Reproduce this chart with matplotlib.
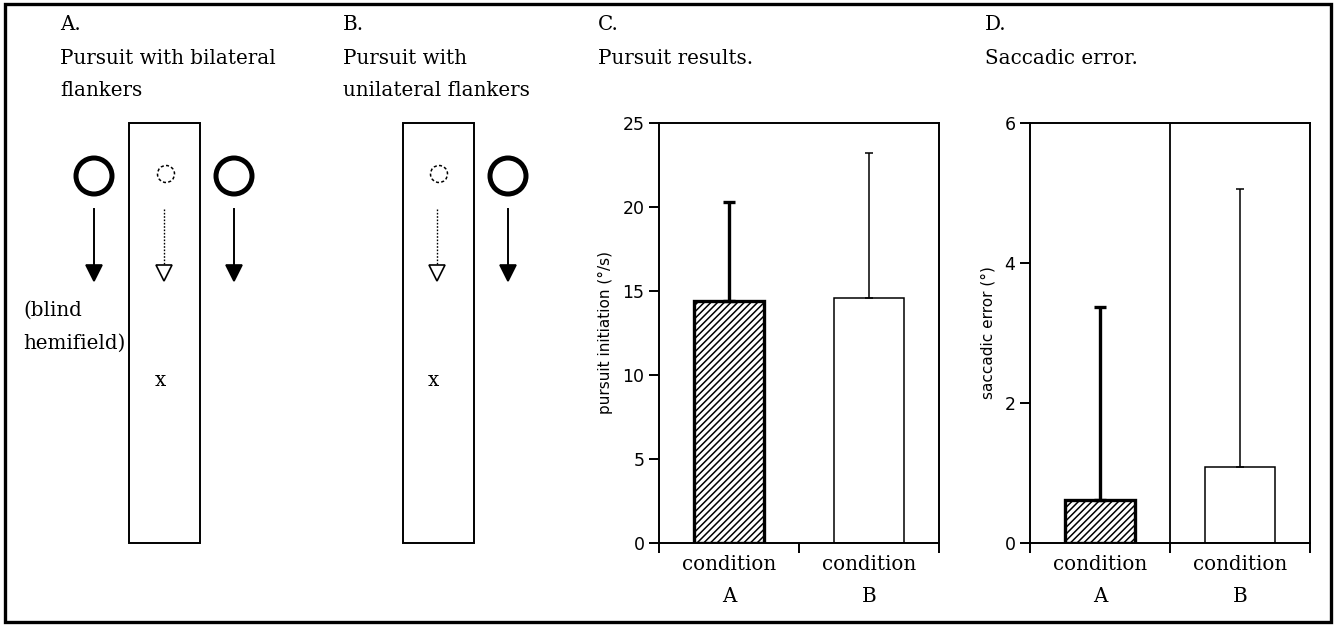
import numpy as np
import matplotlib
matplotlib.use('Agg')
import matplotlib.pyplot as plt
from matplotlib.patches import Rectangle, Circle

# values
conditions = ['condition\nA', 'condition\nB']
pursuit_mean = [14.4, 14.6]
pursuit_upper = [20.3, 23.2]
saccade_mean = [0.61, 1.09]
saccade_upper = [3.37, 5.06]
pursuit_ticks = [0, 5, 10, 15, 20, 25]
saccade_ticks = [0, 2, 4, 6]

panel_titles = ['A.\nPursuit with bilateral\nflankers',
                'B.\nPursuit with\nunilateral flankers',
                'C.\nPursuit results.',
                'D.\nSaccadic error.']

SERIF = 'DejaVu Serif'
SANS = 'DejaVu Sans'
FS = 14.3
plt.rcParams['hatch.linewidth'] = 1.1

W, H = 1336, 627
fig = plt.figure(figsize=(W / 100, H / 100), dpi=100)

# background axes in pixel units for the diagrams and text
bg = fig.add_axes([0, 0, 1, 1])
bg.set_xlim(0, W)
bg.set_ylim(H, 0)
bg.axis('off')

bg.add_patch(Rectangle((5, 4), 1326, 618, fill=False, lw=2.4, ec='k'))

for x, title in zip([60, 343, 598, 985], panel_titles):
    for i, line in enumerate(title.split('\n')):
        bg.text(x, 25 + 33 * i, line, va='center', ha='left',
                family=SERIF, fontsize=FS)


def arrow(x, dotted=False):
    bg.plot([x, x], [209, 268], color='k', lw=1.0 if dotted else 1.4,
            ls=(0, (1.2, 1.2)) if dotted else '-')
    bg.plot(x, 273, marker='v', ms=12, mfc='w' if dotted else 'k',
            mec='k', mew=1.2)


def big_circle(x):
    bg.add_patch(Circle((x, 176), 18, fill=False, lw=3.6, ec='k'))


# panel A diagram
bg.add_patch(Rectangle((129, 123), 71, 420, fill=False, lw=1.4, ec='k'))
bg.add_patch(Circle((166, 174), 8.5, fill=False, lw=1.1, ec='k', ls=(0, (2, 1.5))))
arrow(164, dotted=True)
for x in [94, 234]:
    big_circle(x)
    arrow(x)
bg.text(23, 310, '(blind', va='center', ha='left', family=SERIF, fontsize=FS)
bg.text(23, 343, 'hemifield)', va='center', ha='left', family=SERIF, fontsize=FS)
bg.text(160, 380, 'x', va='center', ha='center', family=SERIF, fontsize=FS)

# panel B diagram
bg.add_patch(Rectangle((403, 123), 71, 420, fill=False, lw=1.4, ec='k'))
bg.add_patch(Circle((439, 174), 8.5, fill=False, lw=1.1, ec='k', ls=(0, (2, 1.5))))
arrow(437, dotted=True)
big_circle(508)
arrow(508)
bg.text(433, 380, 'x', va='center', ha='center', family=SERIF, fontsize=FS)


def bar_panel(left, mean, upper, ticks, ylabel, label_x, divider):
    ax = fig.add_axes([left / W, 84 / H, 280 / W, 420 / H])
    xs = [0.5, 1.5]
    bars = ax.bar(xs, mean, width=0.5, color='w', edgecolor='k',
                  linewidth=[2.4, 1.1], zorder=2)
    bars[0].set_hatch('/////')
    for i in range(2):
        ax.errorbar(xs[i], mean[i], yerr=[[0], [upper[i] - mean[i]]],
                    fmt='none', ecolor='k', elinewidth=[2.4, 1.1][i],
                    capsize=[4, 3][i], capthick=[2.4, 1.1][i], zorder=3)
    if divider:
        ax.axvline(1, color='k', lw=1.3)
    ax.set_xlim(0, 2)
    ax.set_ylim(ticks[0], ticks[-1])
    for s in ax.spines.values():
        s.set_linewidth(1.4)
    ax.set_xticks([0, 1, 2])
    ax.set_xticklabels([])
    ax.set_xticks(xs, minor=True)
    ax.set_xticklabels(conditions, minor=True, family=SERIF, fontsize=FS,
                       linespacing=1.85)
    ax.tick_params(axis='x', which='major', direction='out', length=7.5, width=1.4)
    ax.tick_params(axis='x', which='minor', length=0, pad=9)
    ax.set_yticks(ticks)
    ax.tick_params(axis='y', direction='out', length=7.5, width=1.4,
                   labelsize=12.5, pad=3)
    ax.set_ylabel(ylabel, fontsize=11, va='center', family=SANS)
    ax.yaxis.set_label_coords(-(left - label_x) / 280, 0.5)
    return ax


bar_panel(659, pursuit_mean, pursuit_upper, pursuit_ticks,
          'pursuit initiation (°/s)', 605, False)
bar_panel(1030, saccade_mean, saccade_upper, saccade_ticks,
          'saccadic error (°)', 988, True)

fig.savefig('out.png', dpi=100)
